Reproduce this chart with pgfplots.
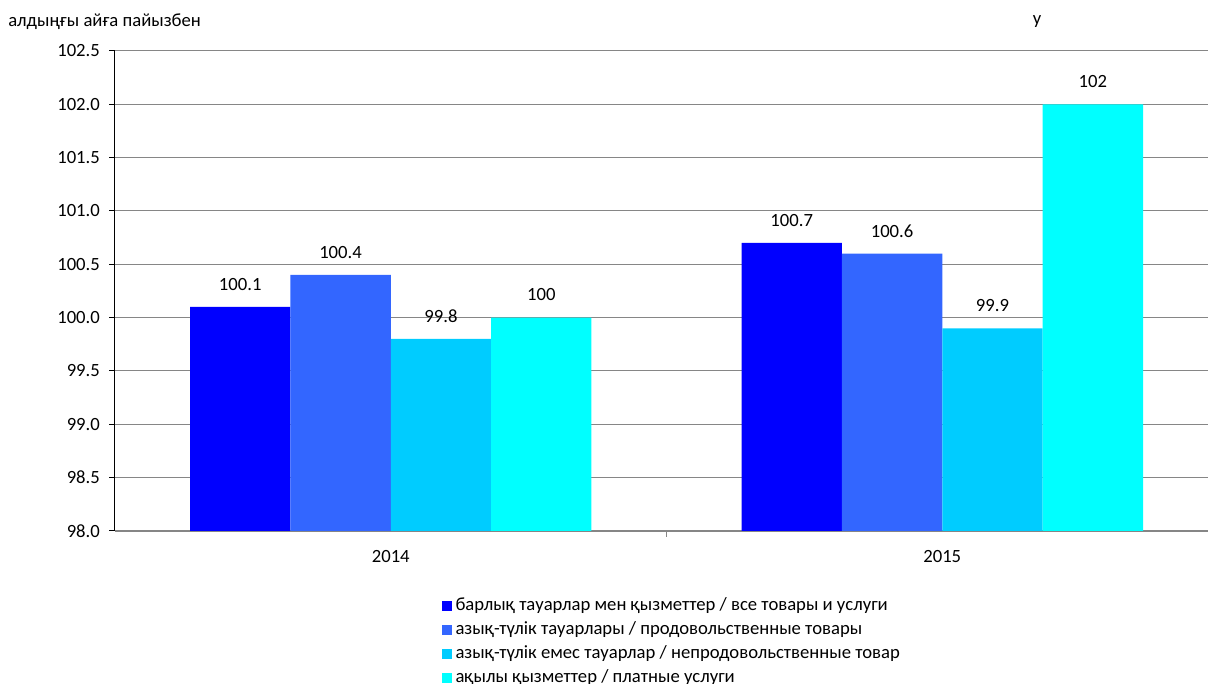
\documentclass[border=0pt]{standalone}
\usepackage{fontspec}
\setmainfont{Carlito}
\usepackage{pgfplots}
\pgfplotsset{compat=1.18}
\definecolor{c1}{HTML}{0000FF}
\definecolor{c2}{HTML}{3366FF}
\definecolor{c3}{HTML}{00CCFF}
\definecolor{c4}{HTML}{00FFFF}
\definecolor{gridc}{HTML}{868686}
\begin{document}
\fontsize{14pt}{16.8pt}\selectfont
\begin{tikzpicture}
\begin{axis}[
  at={(0,0)}, anchor=south west,
  scale only axis, width=827.25pt, height=360pt,
  xmin=-0.5, xmax=1.5, ymin=98, ymax=102.5,
  ytick={98,98.5,99,99.5,100,100.5,101,101.5,102,102.5},
  yticklabel style={/pgf/number format/fixed, /pgf/number format/fixed zerofill, /pgf/number format/precision=1, xshift=-2pt},
  /pgf/number format/assume math mode=true,
  xtick={0,1}, xticklabels={2014,2015},
  minor xtick={0.5},
  axis lines=left,
  axis line style={-},
  x axis line style={gridc, line width=0.9pt},
  y axis line style={black, line width=0.75pt},
  ymajorgrids, grid style={gridc, line width=0.75pt},
  tick align=outside,
  major tick length=4.5pt, minor tick length=4.5pt,
  xtick style={draw=none},
  minor x tick style={draw=gridc, line width=0.75pt},
  ytick style={black, line width=0.75pt},
  xticklabel style={yshift=-5pt},
  ybar, bar width=0.182,
  nodes near coords,
  every node near coord/.append style={anchor=center, yshift=17pt, black},
  clip=false,
  legend cell align=left,
  legend style={at={(0.2958,-0.135)}, anchor=north west, draw=none, fill=none,
    inner sep=0pt, row sep=2.5pt,
    nodes={inner sep=1.5pt, text height=9.5pt, text depth=3pt},
    /tikz/every odd column/.append style={column sep=1.5pt}},
  legend image code/.code={\fill[#1] (0pt,-3.3pt) rectangle (7.5pt,4.2pt);},
]
\addplot[fill=c1, draw=none, bar shift=-0.273] coordinates {(0,100.1) (1,100.7)};
\addlegendentry{барлық тауарлар мен қызметтер / все товары и услуги}
\addplot[fill=c2, draw=none, bar shift=-0.091] coordinates {(0,100.4) (1,100.6)};
\addlegendentry{азық-түлік тауарлары / продовольственные товары}
\addplot[fill=c3, draw=none, bar shift=0.091] coordinates {(0,99.8) (1,99.9)};
\addlegendentry{азық-түлік емес тауарлар / непродовольственные товар}
\addplot[fill=c4, draw=none, bar shift=0.273] coordinates {(0,100) (1,102)};
\addlegendentry{ақылы қызметтер / платные услуги}
\end{axis}
\node[anchor=west, inner sep=0pt] at (-80.25pt,381.75pt) {алдыңғы айға пайызбен};
\node[inner sep=0pt] at (691.5pt,381.75pt) {у};
\pgfresetboundingbox
\useasboundingbox (-86.25pt,-114.75pt) rectangle (819.75pt,398.25pt);
\end{tikzpicture}
\end{document}
